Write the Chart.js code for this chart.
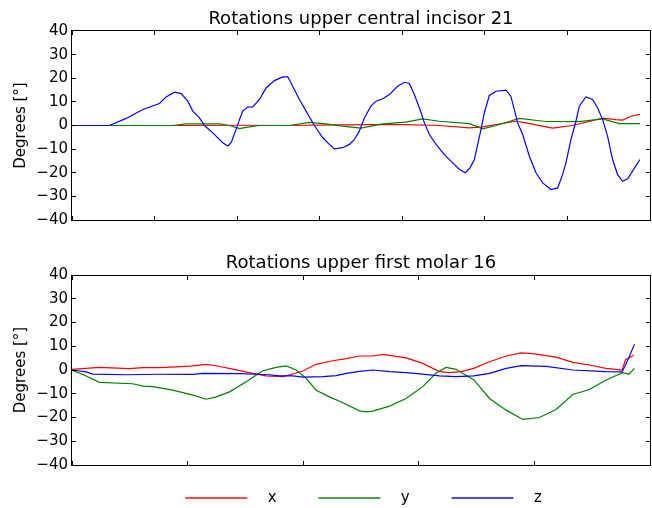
<!DOCTYPE html>
<html>
<head>
<meta charset="utf-8">
<script src="https://cdn.jsdelivr.net/npm/chart.js@4.4.1/dist/chart.umd.min.js"></script>
<style>
  html, body { margin: 0; padding: 0; background: #fff; overflow: hidden; }
  #wrap { position: relative; width: 652px; height: 508px; }
  canvas { position: absolute; left: 0; }
</style>
</head>
<body>
<div id="wrap">
  <canvas id="c1" width="652" height="245" style="top:0"></canvas>
  <canvas id="c2" width="652" height="263" style="top:245px"></canvas>
</div>
<script>
// ---------- data ----------
const seriesLabels = ['x', 'y', 'z'];
const yTicks = [-40, -30, -20, -10, 0, 10, 20, 30, 40];
const incisorTicks = [0, 100, 200, 300, 400, 500, 600, 700];
const molarTicks = [0, 100, 200, 300, 400, 500];

// Upper central incisor 21
const incisorX_t = [0, 150, 200, 260, 323.8, 364.2, 404.5, 444.9, 481.2, 497.4, 537.7, 549.8, 582, 606.2, 642.6, 658.8, 666.8, 676.9, 687.8];
const incisorX_deg = [0, 0, 0.1, 0, 0.3, 0.4, 0.4, 0, -1.0, -0.6, 1.8, 1.1, -1.1, 0, 3.1, 2.5, 2.3, 3.9, 4.7];

const incisorY_t = [0, 122.1, 138.2, 178.6, 190.7, 202.8, 210.9, 227, 263.3, 287.5, 307.7, 327.9, 350, 376.3, 404.5, 424.7, 444.9, 481.2, 497.4, 513.5, 541.7, 573.9, 614.4, 642.6, 662.8, 687.8];
const incisorY_deg = [0, 0, 0.7, 0.7, 0, -1.3, -0.8, 0, 0, 1.3, 0.7, -0.3, -1.1, 0.7, 1.4, 2.8, 1.8, 0.8, -1.4, 0, 3.0, 1.7, 1.6, 2.8, 0.8, 0.8];

const incisorZ_t = [0, 45.4, 65.6, 85.8, 105.9, 114, 124.1, 132.2, 140.2, 146.3, 154.4, 160.4, 170.5, 182.6, 188.6, 192.7, 198.7, 202.8, 206.8, 212.9, 218.9, 227, 235.1, 245.2, 255.2, 261.3, 267.3, 275.4, 283.5, 293.6, 303.7, 311.7, 317.8, 327.9, 336, 342, 348, 354.1, 362, 368.3, 376.3, 384.4, 394.4, 402.6, 408.6, 414.6, 420.7, 426.8, 432.8, 440.9, 451, 461.1, 469.2, 476.4, 482, 487.3, 491.3, 495.3, 499.4, 505.4, 513.5, 525.6, 531.5, 535.6, 539.7, 545.8, 553.9, 561.9, 570, 580.1, 588.2, 594.2, 598.2, 604.3, 610.3, 614.4, 622.4, 630.5, 636.5, 642.6, 648.6, 654.7, 660.7, 666.8, 672.8, 678.9, 687.8];
const incisorZ_deg = [0, 0, 3.0, 6.8, 9.3, 12.1, 14.1, 13.5, 10.3, 6.1, 3.2, 0, -3.1, -7.3, -8.7, -7.3, -1.7, 2.5, 6.1, 7.8, 7.9, 11.0, 15.9, 19.0, 20.6, 20.6, 16.6, 11.0, 6.1, 0, -5.2, -8.0, -9.9, -9.4, -8.0, -5.9, -2.4, 3.2, 8.2, 10.3, 11.3, 13.1, 16.6, 18.3, 17.8, 13.1, 7.5, 1.1, -3.8, -8.0, -12.3, -15.8, -18.6, -20.0, -17.9, -14.4, -8.0, -1.7, 5.4, 12.7, 14.5, 15.0, 12.4, 6.8, 1.1, -3.8, -13.0, -20.0, -24.3, -27.1, -26.4, -20.7, -15.8, -5.9, 1.8, 8.2, 12.1, 11.0, 7.5, 2.5, -4.5, -14.4, -20.7, -23.6, -22.6, -19.3, -14.4];

// Upper first molar 16
const molarX_t = [0, 23.8, 49.7, 61.3, 75.7, 90.1, 104.5, 116.1, 124.7, 139.1, 156.4, 167.9, 182.4, 191, 199.7, 211.2, 225.6, 237.2, 248.7, 260.2, 268.9, 289, 303.4, 317.9, 326.6, 336.6, 347.6, 361.2, 375.6, 388.4, 398.6, 418.8, 433.2, 447.6, 462, 475.9, 478.8, 482.3, 485.8];
const molarX_deg = [0.3, 1.1, 0.6, 1.0, 1.0, 1.3, 1.7, 2.4, 1.8, 0.4, -1.4, -2.5, -2.8, -1.7, -0.4, 2.4, 3.9, 4.8, 5.9, 5.9, 6.6, 5.1, 2.8, -0.7, -1.1, -0.7, 0.7, 3.5, 5.9, 7.2, 6.9, 5.4, 3.2, 2.1, 0.7, 0.0, 4.2, 5.2, 6.3];

const molarY_t = [0, 12.3, 23.8, 52.6, 61.3, 69.9, 87.2, 104.5, 116.1, 124.7, 136.3, 150.7, 165.1, 176.6, 185.3, 193.9, 202.6, 211.2, 222.7, 234.3, 248.7, 254.5, 260.2, 274.7, 289, 303.4, 314.8, 323.6, 332.2, 347.6, 361.2, 375.6, 390, 404.4, 418.8, 433.2, 447.6, 462, 473.6, 476.5, 481.7, 486.6];
const molarY_deg = [0, -2.5, -5.2, -5.8, -6.8, -7.0, -8.5, -10.6, -12.3, -11.3, -9.2, -4.9, -0.3, 1.1, 1.7, 0, -3.5, -8.5, -11.3, -13.8, -17.2, -17.6, -17.3, -15.2, -12.0, -7.0, -1.4, 1.1, 0.3, -4.2, -12.0, -16.9, -20.8, -20.0, -16.6, -10.3, -8.2, -4.2, -1.7, -1.1, -1.8, 0.7];

const molarZ_t = [0, 12.3, 18, 46.9, 75.7, 104.5, 113.2, 144.9, 170.8, 179.5, 191, 199.7, 217, 228.5, 237.2, 248.7, 260.2, 274.7, 289, 303.4, 317.9, 332.2, 347.6, 361.2, 375.6, 388.4, 410.3, 433.2, 462, 475.9, 480.8, 486.6];
const molarZ_deg = [0, -0.8, -1.7, -2.0, -1.8, -1.8, -1.4, -1.5, -2.0, -2.5, -2.5, -3.0, -2.8, -2.4, -1.4, -0.6, 0, -0.7, -1.1, -1.7, -2.5, -2.8, -2.5, -1.4, 0.7, 1.8, 1.5, 0, -0.7, -0.8, 4.2, 10.9];

// ---------- styling ----------
const lineColors = ['#ff0000', '#008000', '#0000ff'];
const legendColors = ['#ff4d4d', '#4da64d', '#4d4dff'];

Chart.defaults.font.family = "'DejaVu Sans', 'Liberation Sans', sans-serif";
Chart.defaults.font.size = 15;
Chart.defaults.color = '#000';

function pts(t, v) { return t.map((x, i) => ({ x: x, y: v[i] })); }
function fmt(v) { return v < 0 ? '\u2212' + Math.abs(v) : String(v); }

const legendImgs = {};
function legendLine(color) {
  if (legendImgs[color]) return legendImgs[color];
  const c = document.createElement('canvas');
  c.width = 88; c.height = 4;
  const g = c.getContext('2d');
  g.fillStyle = color;
  g.fillRect(13, 1, 62, 2);
  legendImgs[color] = c;
  return c;
}

// inward ticks + full frame, like the classic matplotlib style
const mplFrame = {
  id: 'mplFrame',
  afterDatasetsDraw(chart) {
    const { ctx, chartArea: a, scales } = chart;
    const L = Math.floor(a.left) - 0.5, R = Math.floor(a.right) + 0.5;
    const T = Math.floor(a.top) + 0.5, B = Math.floor(a.bottom) + 0.5;
    const len = 4.5;
    ctx.save();
    ctx.strokeStyle = '#000';
    ctx.lineWidth = 1;
    ctx.beginPath();
    scales.x.ticks.forEach(t => {
      const px = Math.floor(scales.x.getPixelForValue(t.value)) + 0.5;
      ctx.moveTo(px, B); ctx.lineTo(px, B - len);
      ctx.moveTo(px, T); ctx.lineTo(px, T + len);
    });
    scales.y.ticks.forEach(t => {
      const py = Math.floor(scales.y.getPixelForValue(t.value)) + 0.5;
      ctx.moveTo(L, py); ctx.lineTo(L + len, py);
      ctx.moveTo(R, py); ctx.lineTo(R - len, py);
    });
    ctx.stroke();
    ctx.strokeRect(L, T, R - L, B - T);
    ctx.restore();
  }
};

// centre title over the axes and put the legend at the figure bottom
const placeBlocks = {
  id: 'placeBlocks',
  afterLayout(chart) {
    const a = chart.chartArea;
    const tb = chart.titleBlock;
    if (tb) {
      tb.left = a.left;
      tb.right = a.right;
      tb.width = tb.right - tb.left;
    }
    const lg = chart.legend;
    if (lg && chart.options.plugins.legend.display) {
      lg.left = a.left - 8;
      lg.right = a.right;
      lg.width = lg.right - lg.left;
      lg.top = 216.7;
      lg.bottom = chart.height;
      lg.height = lg.bottom - lg.top;
    }
  }
};

function makeChart(id, title, ticksX, series, opts) {
  const datasets = series.map((s, i) => ({
    label: seriesLabels[i],
    data: pts(s[0], s[1]),
    borderColor: lineColors[i],
    backgroundColor: lineColors[i],
    borderWidth: 1.2,
    pointRadius: 0,
    tension: 0,
    fill: false,
    order: 3 - i
  }));
  return new Chart(document.getElementById(id), {
    type: 'line',
    data: { datasets },
    options: {
      responsive: false,
      animation: false,
      events: [],
      layout: { padding: { left: 0, right: 2, top: 0, bottom: 0 } },
      plugins: {
        tooltip: { enabled: false },
        title: {
          display: true,
          text: title,
          color: '#000',
          font: { size: 18, weight: 'normal' },
          padding: opts.titlePad
        },
        legend: {
          display: opts.legend,
          position: 'bottom',
          maxHeight: 10,
          labels: {
            usePointStyle: true,
            pointStyleWidth: 88,
            padding: 28.8,
            color: '#000',
            font: { size: 15 },
            generateLabels: (ch) => ch.data.datasets.map((ds, i) => ({
              text: ds.label,
              pointStyle: legendLine(legendColors[i]),
              fillStyle: legendColors[i],
              strokeStyle: legendColors[i],
              lineWidth: 0,
              hidden: false,
              datasetIndex: i,
              fontColor: '#000'
            }))
          }
        }
      },
      scales: {
        x: {
          type: 'linear',
          min: ticksX[0],
          max: ticksX[ticksX.length - 1],
          afterBuildTicks: s => { s.ticks = ticksX.map(v => ({ value: v })); },
          ticks: { display: false },
          grid: { display: false, drawTicks: false },
          border: { display: false },
          afterFit: s => { s.height = opts.xHeight; }
        },
        y: {
          type: 'linear',
          min: yTicks[0],
          max: yTicks[yTicks.length - 1],
          afterBuildTicks: s => { s.ticks = yTicks.map(v => ({ value: v })); },
          ticks: { padding: 4, callback: v => fmt(v), font: { size: 15 }, color: '#000' },
          grid: { display: false, drawTicks: false },
          border: { display: false },
          title: {
            display: true,
            text: 'Degrees [°]',
            color: '#000',
            font: { size: 15, weight: 'normal' },
            padding: { top: 12.5, bottom: 0 }
          },
          afterFit: s => { s.width = 72; }
        }
      }
    },
    plugins: [mplFrame, placeBlocks]
  });
}

makeChart('c1', 'Rotations upper central incisor 21', incisorTicks, [
  [incisorX_t, incisorX_deg],
  [incisorY_t, incisorY_deg],
  [incisorZ_t, incisorZ_deg]
], { titlePad: { top: 8.2, bottom: 1.2 }, xHeight: 25, legend: false });

makeChart('c2', 'Rotations upper first molar 16', molarTicks, [
  [molarX_t, molarX_deg],
  [molarY_t, molarY_deg],
  [molarZ_t, molarZ_deg]
], { titlePad: { top: 7.6, bottom: 0.8 }, xHeight: 33, legend: true });
</script>
</body>
</html>
